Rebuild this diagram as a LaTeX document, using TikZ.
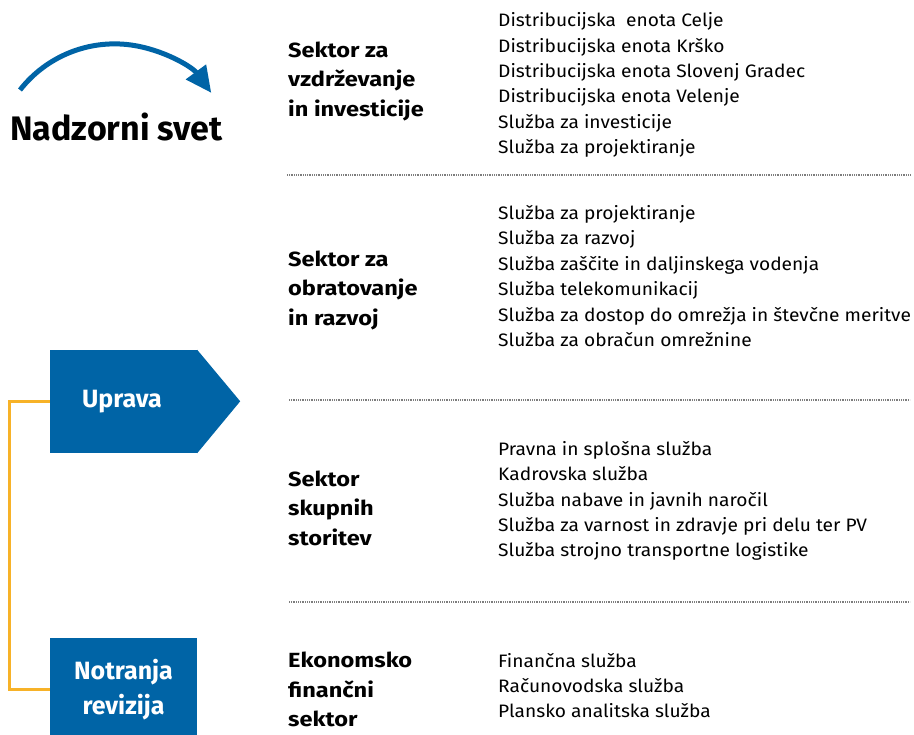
\documentclass[tikz,border=0pt]{standalone}
\usepackage{fontspec}
\setmainfont{Fira Sans}
\newfontfamily\seznamfont[FakeStretch=1.065]{Fira Sans}
\newfontfamily\sektorfont[FakeStretch=1.15]{Fira Sans}
\usetikzlibrary{arrows.meta}
\definecolor{modra}{RGB}{0,100,166}
\definecolor{oranzna}{RGB}{247,178,40}
\definecolor{siva}{RGB}{125,125,125}

\begin{document}
\begin{tikzpicture}[x=1pt,y=-1pt,
    sektor/.style={anchor=west,align=left,inner xsep=0pt,font=\sektorfont\fontsize{20.5}{29.5}\selectfont\bfseries},
    seznam/.style={anchor=west,align=left,inner xsep=0pt,font=\seznamfont\fontsize{18}{25.4}\selectfont},
    polje/.style={fill=modra,text=white,minimum width=147pt,minimum height=103pt,
      inner sep=0pt,align=center,font=\fontsize{25}{35}\selectfont\bfseries},
    locilo/.style={siva,line width=1.4pt,dash pattern=on 1pt off 0.8pt}]
  \useasboundingbox (0,0) rectangle (914,735);

  % Nadzorni svet
  \node[anchor=west,inner xsep=0pt,font=\fontsize{34}{36}\selectfont\bfseries] (svet) at (10,127) {Nadzorni svet};
  \draw[modra,line width=5pt,-{Triangle[length=26pt,width=24pt]}] (20,90)
    arc[start angle=-142,end angle=-36.3,radius=120];

  % Uprava in revizija
  \node[polje] (uprava) at (123.5,401.5) {};
  \fill[modra] (uprava.north east) -- ++(43,51.5) -- (uprava.south east) -- cycle;
  \node[text=white,font=\fontsize{25}{35}\selectfont\bfseries] (upravanapis) at (122,402) {Uprava};
  \node[polje,minimum height=104pt] (revizija) at (123.5,690) {Notranja\\revizija};
  \draw[oranzna,line width=3pt] (uprava.west) -- ++(-40,0) |- (50,689);

  % sektorji
  \node[sektor] (sektorA) at (288,81) {Sektor za\\vzdrževanje\\in investicije};
  \node[sektor] (sektorB) at (288,290) {Sektor za\\obratovanje\\in razvoj};
  \node[sektor] (sektorC) at (288,508) {Sektor\\skupnih\\storitev};
  \node[sektor] (sektorD) at (288,689.5) {Ekonomsko\\finančni\\sektor};

  % sluzbe
  \node[seznam] (sluzbeA) at (498,85) {Distribucijska\ \ enota Celje\\Distribucijska enota Krško\\
    Distribucijska enota Slovenj Gradec\\Distribucijska enota Velenje\\
    Služba za investicije\\Služba za projektiranje};
  \node[seznam] (sluzbeB) at (498,276) {Služba za projektiranje\\Služba za razvoj\\
    Služba zaščite in daljinskega vodenja\\Služba telekomunikacij\\
    Služba za dostop do omrežja in števčne meritve\\Služba za obračun omrežnine};
  \node[seznam] (sluzbeC) at (498,501) {Pravna in splošna služba\\Kadrovska služba\\
    Služba nabave in javnih naročil\\Služba za varnost in zdravje pri delu ter PV\\
    Služba strojno transportne logistike};
  \node[seznam] (sluzbeD) at (498,685.5) {Finančna služba\\Računovodska služba\\
    Plansko analitska služba};

  % locila
  \draw[locilo] (287,175) -- (910,175);
  \draw[locilo] (289,400) -- (910,400);
  \draw[locilo] (289,602) -- (910,602);
\end{tikzpicture}
\end{document}
